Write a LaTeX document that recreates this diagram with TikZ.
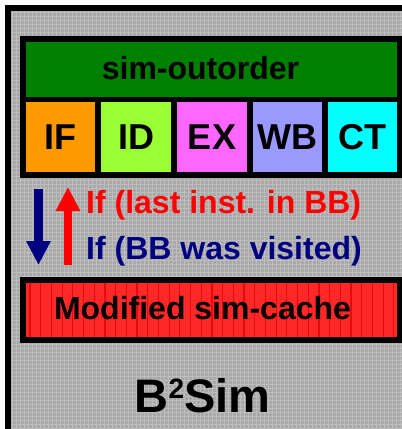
\documentclass[tikz,border=0pt]{standalone}
\usepackage{fontspec}
\setmainfont{Liberation Sans}
\usetikzlibrary{arrows.meta}

\definecolor{panelgray}{HTML}{A9A9A9}
\definecolor{panelgrid}{HTML}{BDBDBD}
\definecolor{simgreen}{HTML}{008000}
\definecolor{stageIF}{HTML}{FF9900}
\definecolor{stageID}{HTML}{99FF33}
\definecolor{stageEX}{HTML}{FF66FF}
\definecolor{stageWB}{HTML}{9999FF}
\definecolor{stageCT}{HTML}{00FFFF}
\definecolor{cachered}{HTML}{FF2828}
\definecolor{cachestripe}{HTML}{E80A0A}
\definecolor{navyarrow}{HTML}{000080}
\definecolor{redarrow}{HTML}{FF0000}

\tikzset{
  fillbox/.style={draw=none, inner sep=0pt, outer sep=0pt},
  stagebox/.style={fillbox, minimum width=69pt, minimum height=70pt,
    font=\fontsize{36}{36}\selectfont\bfseries, text height=25.8pt, text depth=0pt},
  caption/.style={inner sep=0pt, anchor=base, font=\fontsize{32}{38}\selectfont\bfseries},
  condtext/.style={caption, anchor=base west},
  bigarrow/.style={line width=8.5pt, line cap=butt,
    -{Triangle[width=23pt,length=24pt]}},
}

\begin{document}
\begin{tikzpicture}[x=1pt,y=-1pt]
\useasboundingbox (0,0) rectangle (402,429);

\begin{scope}
  \clip (0,0) rectangle (402,429);
  % textured gray panel with its heavy frame
  \fill[panelgray] (8,8) rectangle (420,450);
  \draw[panelgrid, line width=1pt] (11,11) grid[step=4pt] (402,429);
  \draw[line width=6pt] (8,8) rectangle (420,450);
  % black frame of the simulator block
  \fill[black] (20,36) rectangle (410,178);
  % black frame of the cache block
  \fill[black] (20,277) rectangle (410,343);
\end{scope}

% simulator header
\node[fillbox, fill=simgreen, minimum width=371pt, minimum height=55pt] (outorder) at (211.5,69.5) {};
\node[caption] (outordertext) at (200.5,79) {sim-outorder};

% pipeline stages
\node[stagebox, fill=stageIF, minimum width=69pt] (IF) at (60.5,137) {IF};
\node[stagebox, fill=stageID, minimum width=70pt] (ID) at (136,137) {ID};
\node[stagebox, fill=stageEX, minimum width=70pt] (EX) at (212,137) {EX};
\node[stagebox, fill=stageWB, minimum width=69pt] (WB) at (287.5,137) {WB};
\node[stagebox, fill=stageCT, minimum width=69pt] (CT) at (362.5,137) {CT};

% modified cache with vertical stripes
\node[fillbox, fill=cachered, minimum width=371pt, minimum height=54pt] (cache) at (211.5,310) {};
\begin{scope}
  \clip (cache.south west) rectangle (cache.north east);
  \foreach \x in {30,40.7,...,400} {
    \draw[cachestripe, line width=1.2pt] (\x,283) -- (\x,337);
  }
\end{scope}
\node[caption] (cachetext) at (202.5,319) {Modified sim-cache};

% conditions passed between the two blocks
\coordinate (downtop) at (38.5,189);
\coordinate (downtip) at (38.5,265);
\coordinate (upbase) at (68,265);
\coordinate (uptip) at (68,187);
\draw[bigarrow, navyarrow] (downtop) -- (downtip);
\draw[bigarrow, redarrow] (upbase) -- (uptip);
\node[condtext, text=redarrow] (lastinst) at (86,213) {If (last inst. in BB)};
\node[condtext, text=navyarrow] (visited) at (86,259) {If (BB was visited)};

% tool name
\node[inner sep=0pt, anchor=base, font=\fontsize{47}{47}\selectfont\bfseries] (name) at (202.5,412)
  {B{\fontsize{28}{28}\selectfont\raisebox{14pt}{2}}Sim};
\end{tikzpicture}
\end{document}
